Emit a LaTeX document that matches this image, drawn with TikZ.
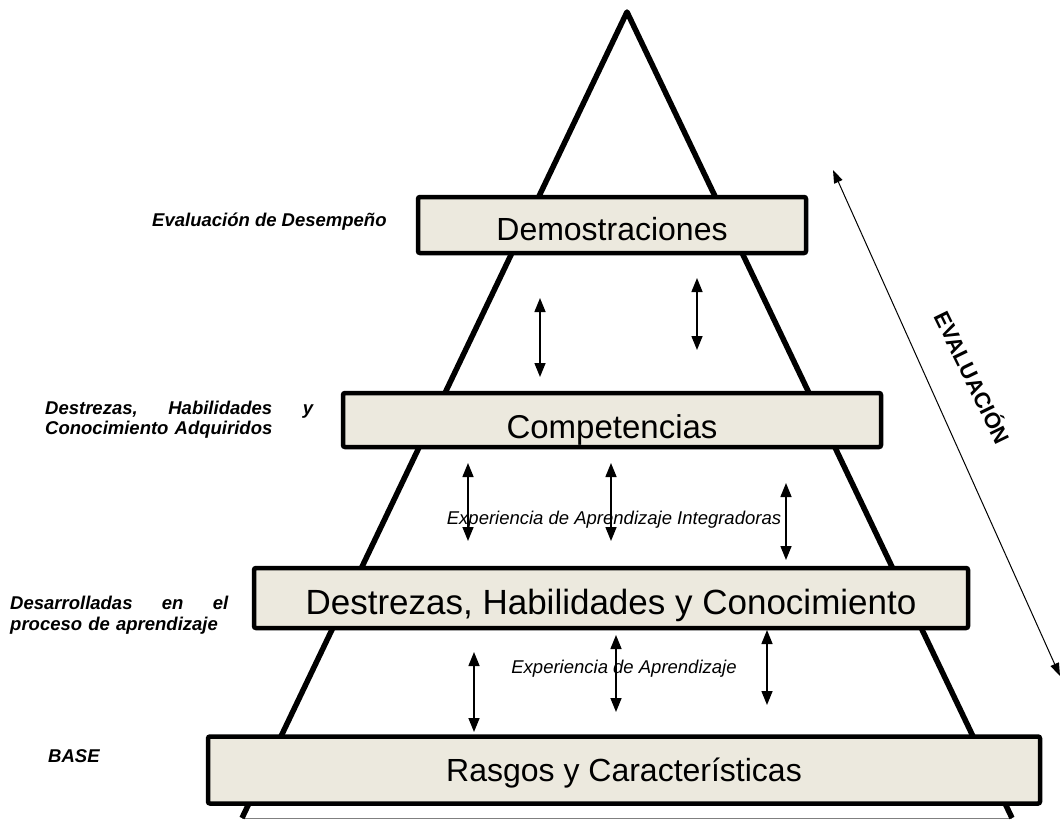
\documentclass[tikz,border=0pt]{standalone}
\usepackage{fontspec}
\setmainfont{Liberation Sans}
\usetikzlibrary{arrows.meta}
\definecolor{beige}{RGB}{236,233,222}
\begin{document}
\begin{tikzpicture}[x=1pt,y=-1pt]
    \tikzstyle{caja} = [draw=black, line width=4.5pt, rounded corners=2pt, fill=beige, inner sep=0pt]
    \tikzstyle{texto} = [font=\fontsize{32}{38}\selectfont, anchor=base, inner sep=0pt]
    \tikzstyle{etiqueta} = [font=\fontsize{18.5}{20}\selectfont\bfseries\itshape, inner sep=0pt, align=left]
    \tikzstyle{experiencia} = [font=\fontsize{18.5}{21}\selectfont\itshape, anchor=base, inner sep=0pt]
    \tikzstyle{flecha} = [line width=1.5pt, {Triangle[length=14pt,width=11pt]}-{Triangle[length=14pt,width=11pt]}]
    \useasboundingbox (0,0) rectangle (1062,820);

    \coordinate (cima) at (627,12);
    \coordinate (izq) at (242,818);
    \coordinate (der) at (1012,818);
    \draw[gray, line width=1pt] (izq) -- (der);
    \draw[line width=5.5pt, line join=round] (izq) -- (cima) -- (der);

    \node[caja, minimum width=388pt, minimum height=56pt] (dem) at (612,225) {};
    \node[caja, minimum width=538pt, minimum height=54pt] (comp) at (612,420) {};
    \node[caja, minimum width=714pt, minimum height=60pt] (destr) at (611,598) {};
    \node[caja, minimum width=832pt, minimum height=67pt] (rasgos) at (624,770) {};

    \node[texto] (demT) at (612,240) {Demostraciones};
    \node[texto, font=\fontsize{33}{38}\selectfont] (compT) at (612,438) {Competencias};
    \node[texto, font=\fontsize{35}{40}\selectfont] (destrT) at (611,614) {Destrezas, Habilidades y Conocimiento};
    \node[texto] (rasgosT) at (624,781) {Rasgos y Características};

    \node[etiqueta, anchor=base west] (evalL) at (152,226) {Evaluación de Desempeño};
    \node[etiqueta, anchor=north west, text width=268pt] (compL) at (45,401)
        {Destrezas,\hfill Habilidades\hfill y\\Conocimiento Adquiridos};
    \node[etiqueta, anchor=north west, text width=218pt] (destrL) at (10,596)
        {Desarrolladas\hfill en\hfill el\\[1pt]proceso de aprendizaje};
    \node[etiqueta, anchor=base west] (baseL) at (48,762) {BASE};

    \node[experiencia] (exp1) at (614,524) {Experiencia de Aprendizaje Integradoras};
    \node[experiencia] (exp2) at (624,673) {Experiencia de Aprendizaje};

    \foreach \n/\x/\ya/\yb in {1/540/298/377, 2/697/278/350, 3/468/463/541, 4/611/463/541,
                              5/786/483/560, 6/474/652/732, 7/616/635/712, 8/767/630/705} {
        \coordinate (f\n a) at (\x,\ya);
        \coordinate (f\n b) at (\x,\yb);
        \draw[flecha] (f\n a) -- (f\n b);
    }

    \coordinate (evA) at (833,170);
    \coordinate (evB) at (1060,676);
    \draw[line width=1pt, {Triangle[length=13pt,width=9pt]}-{Triangle[length=13pt,width=9pt]}] (evA) -- (evB);
    \node[font=\fontsize{22}{24}\selectfont\bfseries, rotate=-64, inner sep=0pt] (evT) at (974,377) {EVALUACIÓN};
\end{tikzpicture}
\end{document}
